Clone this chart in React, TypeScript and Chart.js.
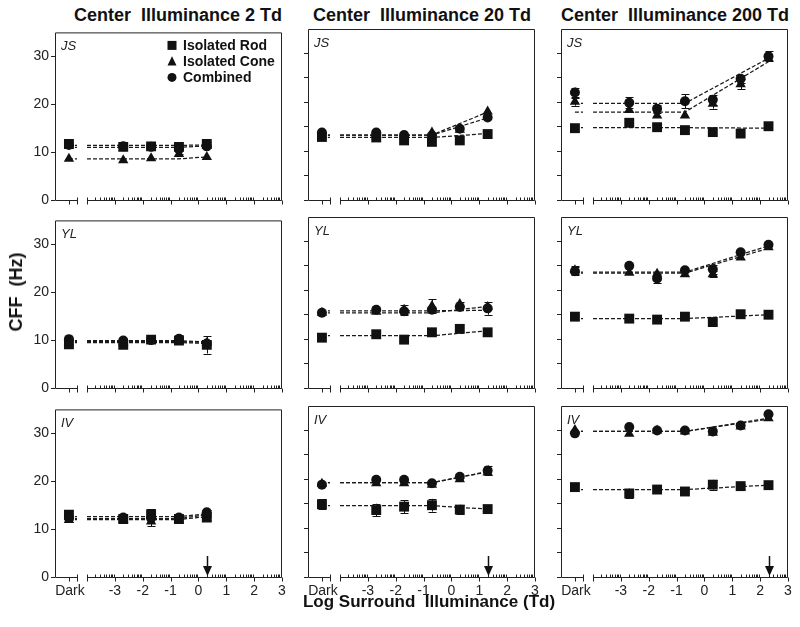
import React, { useEffect, useRef } from 'react';
import { Chart, registerables } from 'chart.js';
Chart.register(...registerables);

const FONT = '"Liberation Sans", Arial, Helvetica, sans-serif';

// ---- axis definitions ----
const DARK_X = -4.65;
const BREAK_START = -4.36;
const BREAK_END = -4.0;
const X_MIN = -5.15;
const X_MAX = 3;
const X_LOG = [-2.7, -1.7, -0.7, 0.3, 1.3, 2.3];
const KNEE_X = -0.7;
const X_MAJOR = [-3, -2, -1, 0, 1, 2, 3];
const X_TICK_LABELS = ['-3', '-2', '-1', '0', '1', '2', '3'];
const X_DECADES = [-4, -3, -2, -1, 0, 1, 2];
const Y_LABELED_TICKS = [0, 10, 20, 30];
const Y_PLAIN_TICKS = [0, 5, 10, 15, 20, 25, 30];
const Y_MAX = 35;
const CENTER_TD = [2, 20, 200];
const ARROW_X = [0.3, 1.3, 2.3];
const SUBJECTS = ['JS', 'YL', 'IV'];
const SERIES_NAMES = ['Isolated Rod', 'Isolated Cone', 'Combined'];

// ---- data: JS ----
const JS2_ROD = [11.7, 11.1, 11.2, 11.1, 11.7];
const JS2_CONE = [8.6, 8.3, 8.7, 9.6, 9.0];
const JS2_COMB = [11.5, 11.2, 11.1, 10.6, 11.2];
const JS2_ROD_ERR = [0, 0, 0, 0, 0.4];
const JS2_CONE_ERR = [0, 0, 0, 0, 0];
const JS2_COMB_ERR = [0, 0, 0, 0.9, 0];
const JS2_ROD_FIT = [11.4, 11.5];
const JS2_CONE_FIT = [8.6, 9.0];
const JS2_COMB_FIT = [11.0, 11.3];

const JS20_ROD = [12.9, 12.8, 12.2, 11.9, 12.2, 13.5];
const JS20_CONE = [13.3, 13.4, 13.0, 13.8, 14.4, 18.1];
const JS20_COMB = [13.8, 13.8, 13.3, 13.2, 14.6, 16.9];
const JS20_ROD_ERR = [0, 0, 0, 0, 0, 0];
const JS20_CONE_ERR = [0, 0, 0, 0, 0, 0];
const JS20_COMB_ERR = [0, 0, 0, 0, 0, 0];
const JS20_ROD_FIT = [12.8, 13.6];
const JS20_CONE_FIT = [13.3, 18.0];
const JS20_COMB_FIT = [13.3, 16.8];

const JS200_ROD = [14.7, 15.8, 14.9, 14.3, 13.9, 13.6, 15.1];
const JS200_CONE = [20.1, 18.4, 17.3, 17.3, 19.7, 23.7, 29.0];
const JS200_COMB = [22.0, 19.9, 18.7, 20.2, 20.5, 24.8, 29.4];
const JS200_ROD_ERR = [0, 0, 0, 0, 0, 0, 0];
const JS200_CONE_ERR = [0.8, 0, 0, 0, 1.0, 1.0, 0];
const JS200_COMB_ERR = [1.0, 1.1, 0.8, 1.4, 1.0, 0.8, 1.0];
const JS200_ROD_FIT = [14.8, 14.7];
const JS200_CONE_FIT = [18.0, 28.3];
const JS200_COMB_FIT = [19.8, 29.0];

// ---- data: YL ----
const YL2_ROD = [9.1, 9.0, 10.1, 9.9, 9.0];
const YL2_CONE = [9.5, 9.5, 9.8, 10.0, 9.4];
const YL2_COMB = [10.2, 9.9, 10.0, 10.3, 9.3];
const YL2_ROD_ERR = [0, 0, 0, 0, 1.8];
const YL2_CONE_ERR = [0, 0, 0, 0, 0];
const YL2_COMB_ERR = [0, 0, 0, 0.8, 0];
const YL2_ROD_FIT = [9.5, 9.3];
const YL2_CONE_FIT = [9.7, 9.5];
const YL2_COMB_FIT = [9.9, 9.6];

const YL20_ROD = [10.3, 11.0, 9.9, 11.4, 12.1, 11.4];
const YL20_CONE = [15.4, 15.6, 16.0, 16.8, 17.2, 16.6];
const YL20_COMB = [15.4, 16.0, 15.7, 16.0, 16.6, 16.3];
const YL20_ROD_ERR = [0, 0, 0, 0, 0, 0];
const YL20_CONE_ERR = [0, 0, 1.0, 1.4, 0.5, 0];
const YL20_COMB_ERR = [0, 0, 0.5, 0, 0, 1.3];
const YL20_ROD_FIT = [10.7, 11.7];
const YL20_CONE_FIT = [15.4, 16.7];
const YL20_COMB_FIT = [15.8, 15.9];

const YL200_ROD = [14.6, 14.2, 14.0, 14.6, 13.5, 15.1, 15.0];
const YL200_CONE = [24.1, 23.6, 23.4, 23.3, 23.3, 26.7, 28.8];
const YL200_COMB = [23.9, 25.0, 22.4, 24.1, 24.3, 27.8, 29.3];
const YL200_ROD_ERR = [0, 0, 0, 0, 0, 0, 0];
const YL200_CONE_ERR = [0.8, 0, 0, 0, 0.6, 0, 0];
const YL200_COMB_ERR = [0.8, 0, 1.0, 0, 0.9, 0, 0];
const YL200_ROD_FIT = [14.2, 15.0];
const YL200_CONE_FIT = [23.5, 28.6];
const YL200_COMB_FIT = [23.7, 29.1];

// ---- data: IV ----
const IV2_ROD = [13.0, 12.1, 13.1, 12.1, 12.4];
const IV2_CONE = [11.9, 12.0, 11.6, 12.0, 13.0];
const IV2_COMB = [12.3, 12.4, 12.3, 12.4, 13.5];
const IV2_ROD_ERR = [1.0, 0, 1.0, 0, 0.5];
const IV2_CONE_ERR = [0.5, 0, 1.0, 0, 0];
const IV2_COMB_ERR = [0, 0, 0, 0, 0.5];
const IV2_ROD_FIT = [12.0, 12.6];
const IV2_CONE_FIT = [12.2, 13.0];
const IV2_COMB_FIT = [12.6, 13.2];

const IV20_ROD = [14.9, 13.7, 14.4, 14.7, 13.8, 13.9];
const IV20_CONE = [19.1, 19.2, 19.2, 18.9, 20.0, 21.4];
const IV20_COMB = [18.9, 19.9, 19.9, 19.2, 20.5, 21.8];
const IV20_ROD_ERR = [1.0, 1.3, 1.3, 1.3, 1.0, 0];
const IV20_CONE_ERR = [0, 0, 0, 0, 0, 0];
const IV20_COMB_ERR = [0, 0, 0, 0, 0, 1.0];
const IV20_ROD_FIT = [14.6, 13.9];
const IV20_CONE_FIT = [19.3, 21.5];
const IV20_COMB_FIT = [19.3, 21.6];

const IV200_ROD = [18.4, 17.1, 17.9, 17.5, 18.9, 18.6, 18.8];
const IV200_CONE = [30.1, 29.3, 30.0, 29.8, 29.5, 30.8, 32.5];
const IV200_COMB = [29.4, 30.7, 30.0, 30.0, 29.8, 31.0, 33.3];
const IV200_ROD_ERR = [0, 1.0, 0.5, 0, 1.0, 0.5, 0];
const IV200_CONE_ERR = [0, 0, 0, 0, 0, 0, 0];
const IV200_COMB_ERR = [0, 0, 0, 0, 0, 0, 0];
const IV200_ROD_FIT = [17.9, 18.8];
const IV200_CONE_FIT = [29.8, 32.3];
const IV200_COMB_FIT = [29.8, 32.5];

// table of panels (rows = subjects, cols = center illuminance)
const PANEL_VALUES = [
  [[JS2_ROD, JS2_CONE, JS2_COMB], [JS20_ROD, JS20_CONE, JS20_COMB], [JS200_ROD, JS200_CONE, JS200_COMB]],
  [[YL2_ROD, YL2_CONE, YL2_COMB], [YL20_ROD, YL20_CONE, YL20_COMB], [YL200_ROD, YL200_CONE, YL200_COMB]],
  [[IV2_ROD, IV2_CONE, IV2_COMB], [IV20_ROD, IV20_CONE, IV20_COMB], [IV200_ROD, IV200_CONE, IV200_COMB]],
];
const PANEL_ERRORS = [
  [[JS2_ROD_ERR, JS2_CONE_ERR, JS2_COMB_ERR], [JS20_ROD_ERR, JS20_CONE_ERR, JS20_COMB_ERR], [JS200_ROD_ERR, JS200_CONE_ERR, JS200_COMB_ERR]],
  [[YL2_ROD_ERR, YL2_CONE_ERR, YL2_COMB_ERR], [YL20_ROD_ERR, YL20_CONE_ERR, YL20_COMB_ERR], [YL200_ROD_ERR, YL200_CONE_ERR, YL200_COMB_ERR]],
  [[IV2_ROD_ERR, IV2_CONE_ERR, IV2_COMB_ERR], [IV20_ROD_ERR, IV20_CONE_ERR, IV20_COMB_ERR], [IV200_ROD_ERR, IV200_CONE_ERR, IV200_COMB_ERR]],
];
const PANEL_FITS = [
  [[JS2_ROD_FIT, JS2_CONE_FIT, JS2_COMB_FIT], [JS20_ROD_FIT, JS20_CONE_FIT, JS20_COMB_FIT], [JS200_ROD_FIT, JS200_CONE_FIT, JS200_COMB_FIT]],
  [[YL2_ROD_FIT, YL2_CONE_FIT, YL2_COMB_FIT], [YL20_ROD_FIT, YL20_CONE_FIT, YL20_COMB_FIT], [YL200_ROD_FIT, YL200_CONE_FIT, YL200_COMB_FIT]],
  [[IV2_ROD_FIT, IV2_CONE_FIT, IV2_COMB_FIT], [IV20_ROD_FIT, IV20_CONE_FIT, IV20_COMB_FIT], [IV200_ROD_FIT, IV200_CONE_FIT, IV200_COMB_FIT]],
];

// ---- layout ----
const PLOT_LEFT = [55, 308, 561];
const PLOT_TOP = [28, 216, 405];
const PLOT_W = 228;
const PLOT_H = 172;
const PAD_L = 45;
const PAD_T = 6;
const PAD_R = 6;
const PAD_B = 40;
const TITLE_CENTER = [178, 422, 675];
const POINT_STYLES = ['rect', 'triangle', 'circle'];
const POINT_RADII = [7, 6, 5];
const INK = '#111';

function drawMarker(ctx: CanvasRenderingContext2D, style: string, x: number, y: number, size: number) {
  ctx.beginPath();
  if (style === 'rect') {
    ctx.rect(x - size / 2, y - size / 2, size, size);
  } else if (style === 'triangle') {
    const h = size * 0.9;
    ctx.moveTo(x, y - h / 2 - 1);
    ctx.lineTo(x + size / 2, y + h / 2);
    ctx.lineTo(x - size / 2, y + h / 2);
    ctx.closePath();
  } else {
    ctx.arc(x, y, size / 2, 0, Math.PI * 2);
  }
  ctx.fillStyle = INK;
  ctx.fill();
}

function makeDecor(row: number, col: number) {
  return {
    id: 'decor' + row + col,
    beforeDatasetsDraw(chart: any) {
      const ctx: CanvasRenderingContext2D = chart.ctx;
      const xs = chart.scales.x;
      const ys = chart.scales.y;
      ctx.save();
      ctx.strokeStyle = INK;
      ctx.lineWidth = 1;
      chart.data.datasets.forEach((ds: any) => {
        if (!ds.errors) return;
        ds.data.forEach((p: any, i: number) => {
          const e = ds.errors[i];
          if (!e) return;
          const x = Math.round(xs.getPixelForValue(p.x)) + 0.5;
          const y1 = ys.getPixelForValue(p.y + e);
          const y2 = ys.getPixelForValue(p.y - e);
          ctx.beginPath();
          ctx.moveTo(x, y1);
          ctx.lineTo(x, y2);
          ctx.moveTo(x - 4, Math.round(y1) + 0.5);
          ctx.lineTo(x + 4, Math.round(y1) + 0.5);
          ctx.moveTo(x - 4, Math.round(y2) + 0.5);
          ctx.lineTo(x + 4, Math.round(y2) + 0.5);
          ctx.stroke();
        });
      });
      ctx.restore();
    },
    afterDraw(chart: any) {
      const ctx: CanvasRenderingContext2D = chart.ctx;
      const xs = chart.scales.x;
      const a = chart.chartArea;
      const L = a.left + 0.5;
      const R = a.right - 0.5;
      const T = a.top + 0.5;
      const B = a.bottom + 0.5;
      const px = (v: number) => Math.round(xs.getPixelForValue(v)) + 0.5;
      ctx.save();
      ctx.strokeStyle = '#222';
      ctx.lineWidth = 1;
      ctx.beginPath();
      // box (left, top, right)
      ctx.moveTo(L, B);
      ctx.lineTo(L, T);
      ctx.lineTo(R, T);
      ctx.lineTo(R, B);
      // broken bottom axis
      ctx.moveTo(L, B);
      ctx.lineTo(px(BREAK_START), B);
      ctx.moveTo(px(BREAK_END), B);
      ctx.lineTo(R, B);
      // dark tick
      ctx.moveTo(px(DARK_X), B);
      ctx.lineTo(px(DARK_X), B + 4);
      // break ends
      ctx.moveTo(px(BREAK_START), B - 3);
      ctx.lineTo(px(BREAK_START), B + 4);
      ctx.moveTo(px(BREAK_END), B - 3);
      ctx.lineTo(px(BREAK_END), B + 4);
      // major ticks
      X_MAJOR.forEach((v) => {
        ctx.moveTo(px(v), B);
        ctx.lineTo(px(v), B + 4);
      });
      // minor (log) ticks
      X_DECADES.forEach((d) => {
        for (let k = 2; k <= 9; k++) {
          const v = d + Math.log10(k);
          ctx.moveTo(px(v), B);
          ctx.lineTo(px(v), B - 3);
        }
      });
      ctx.stroke();

      // x tick labels on bottom row
      if (row === 2) {
        ctx.fillStyle = '#222';
        ctx.font = '14px ' + FONT;
        ctx.textAlign = 'center';
        ctx.textBaseline = 'alphabetic';
        ctx.fillText('Dark', xs.getPixelForValue(DARK_X) + 1, a.bottom + 18);
        X_MAJOR.forEach((v, i) => {
          ctx.fillText(X_TICK_LABELS[i], xs.getPixelForValue(v), a.bottom + 18);
        });
        // arrow at center illuminance
        const ax = px(ARROW_X[col]);
        ctx.strokeStyle = INK;
        ctx.lineWidth = 1.5;
        ctx.beginPath();
        ctx.moveTo(ax, a.bottom - 21);
        ctx.lineTo(ax, a.bottom - 9);
        ctx.stroke();
        ctx.fillStyle = INK;
        ctx.beginPath();
        ctx.moveTo(ax - 4.5, a.bottom - 11);
        ctx.lineTo(ax + 4.5, a.bottom - 11);
        ctx.lineTo(ax, a.bottom - 1);
        ctx.closePath();
        ctx.fill();
      }

      // subject label
      ctx.fillStyle = '#222';
      ctx.font = 'italic 13px ' + FONT;
      ctx.textAlign = 'left';
      ctx.textBaseline = 'alphabetic';
      ctx.fillText(SUBJECTS[row], a.left + 6, a.top + 18);

      // legend
      if (row === 0 && col === 0) {
        ctx.font = 'bold 14px ' + FONT;
        ctx.textBaseline = 'middle';
        SERIES_NAMES.forEach((name, i) => {
          const y = a.top + 13 + i * 16;
          drawMarker(ctx, POINT_STYLES[i], a.left + 117, y, 9);
          ctx.fillStyle = '#111';
          ctx.fillText(name, a.left + 128, y + 1);
        });
      }
      ctx.restore();
    },
  };
}

function buildDatasets(row: number, col: number) {
  const values = PANEL_VALUES[row][col];
  const errors = PANEL_ERRORS[row][col];
  const fits = PANEL_FITS[row][col];
  const xs = [DARK_X, ...X_LOG];
  const pointSets = [2, 1, 0].map((s) => ({
    label: SERIES_NAMES[s],
    data: values[s].map((y, i) => ({ x: xs[i], y })),
    errors: errors[s],
    pointStyle: POINT_STYLES[s],
    pointRadius: POINT_RADII[s],
    pointBackgroundColor: INK,
    pointBorderColor: INK,
    pointBorderWidth: 0,
    showLine: false,
  }));
  const lastX = xs[values[0].length - 1];
  const fitSets = [0, 1, 2].map((s) => ({
    label: SERIES_NAMES[s] + ' fit',
    data: [
      { x: DARK_X, y: fits[s][0] },
      { x: BREAK_START, y: fits[s][0] },
      { x: (BREAK_START + BREAK_END) / 2, y: null },
      { x: BREAK_END, y: fits[s][0] },
      { x: KNEE_X, y: fits[s][0] },
      { x: lastX, y: fits[s][1] },
    ],
    showLine: true,
    spanGaps: false,
    borderColor: '#1a1a1a',
    borderWidth: 1.25,
    borderDash: [4, 2],
    pointRadius: 0,
    fill: false,
  }));
  return [...pointSets, ...fitSets];
}

function Panel({ row, col }: { row: number; col: number }) {
  const ref = useRef<HTMLCanvasElement | null>(null);
  const width = PAD_L + PLOT_W + PAD_R;
  const height = PAD_T + PLOT_H + PAD_B;
  useEffect(() => {
    if (!ref.current) return;
    const chart = new Chart(ref.current, {
      type: 'scatter',
      data: { datasets: buildDatasets(row, col) as any },
      options: {
        responsive: false,
        animation: false,
        devicePixelRatio: 1,
        layout: { padding: { top: PAD_T, right: PAD_R, bottom: PAD_B, left: 0 } },
        plugins: { legend: { display: false }, tooltip: { enabled: false }, title: { display: false } },
        scales: {
          x: { type: 'linear', display: false, min: X_MIN, max: X_MAX },
          y: {
            type: 'linear',
            position: 'left',
            min: 0,
            max: Y_MAX,
            afterBuildTicks: (s: any) => {
              s.ticks = (col === 0 ? Y_LABELED_TICKS : Y_PLAIN_TICKS).map((v) => ({ value: v }));
            },
            afterFit: (s: any) => {
              s.width = PAD_L;
            },
            grid: { drawOnChartArea: false, drawTicks: true, tickLength: 4, color: '#222', lineWidth: 1 },
            border: { display: false },
            ticks: {
              display: col === 0,
              padding: 2,
              color: '#222',
              font: { family: FONT, size: 14 },
              callback: (v: any) => String(v),
            },
          },
        },
      } as any,
      plugins: [makeDecor(row, col)],
    });
    return () => chart.destroy();
  }, [row, col]);
  return (
    <canvas
      ref={ref}
      width={width}
      height={height}
      style={{
        position: 'absolute',
        left: PLOT_LEFT[col] - PAD_L,
        top: PLOT_TOP[row] - PAD_T,
        width,
        height,
      }}
    />
  );
}

export default function App() {
  const cells: React.ReactNode[] = [];
  for (let r = 0; r < 3; r++) for (let c = 0; c < 3; c++) cells.push(<Panel key={r + '-' + c} row={r} col={c} />);
  return (
    <div
      style={{
        position: 'absolute',
        left: 0,
        top: 0,
        width: 800,
        height: 627,
        background: '#fff',
        overflow: 'hidden',
        fontFamily: FONT,
        color: '#111',
      }}
    >
      {CENTER_TD.map((td, c) => (
        <div
          key={'t' + c}
          style={{
            position: 'absolute',
            left: TITLE_CENTER[c] - 150,
            width: 300,
            top: 6,
            textAlign: 'center',
            fontWeight: 'bold',
            fontSize: 18,
            lineHeight: '18px',
            whiteSpace: 'pre',
          }}
        >
          {'Center  Illuminance ' + td + ' Td'}
        </div>
      ))}
      {cells}
      <div
        style={{
          position: 'absolute',
          left: 16,
          top: 292,
          transform: 'translate(-50%, -50%) rotate(-90deg)',
          fontWeight: 'bold',
          fontSize: 18,
          lineHeight: '18px',
          whiteSpace: 'pre',
        }}
      >
        {'CFF  (Hz)'}
      </div>
      <div
        style={{
          position: 'absolute',
          left: 429 - 200,
          width: 400,
          top: 593,
          textAlign: 'center',
          fontWeight: 'bold',
          fontSize: 17,
          lineHeight: '17px',
          whiteSpace: 'pre',
        }}
      >
        {'Log Surround  Illuminance (Td)'}
      </div>
    </div>
  );
}
